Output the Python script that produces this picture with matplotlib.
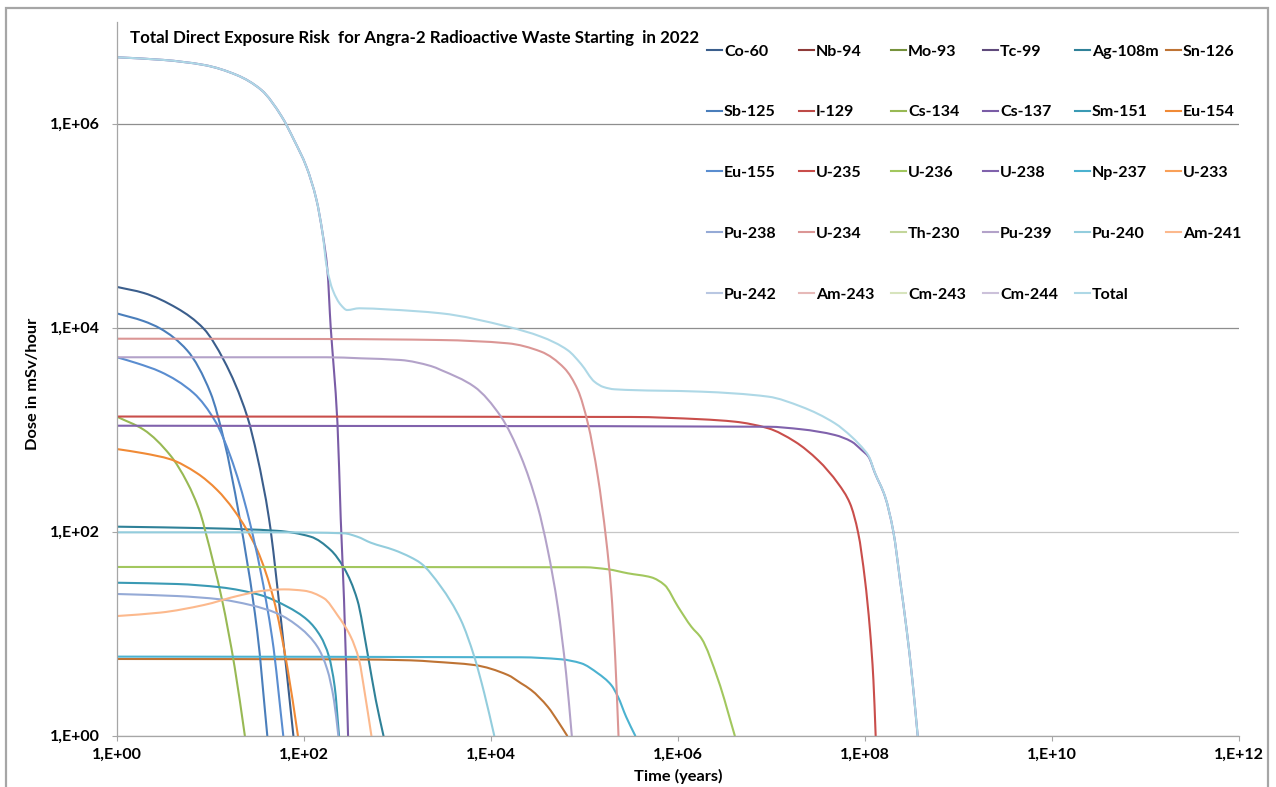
import matplotlib
matplotlib.use("Agg")
import numpy as np
import matplotlib.pyplot as plt
from matplotlib.lines import Line2D
from matplotlib.patches import Rectangle, PathPatch
from matplotlib.path import Path
from matplotlib.ticker import NullLocator

plt.rcParams['font.family'] = ['Lato', 'DejaVu Sans']
plt.rcParams['font.weight'] = 'bold'

W, H = 1276, 787

# ---------------- data (time in years, dose in mSv/hour) ----------------
co60_t = [1, 1.93, 4.40, 8.47, 13.9, 24.7, 31.6, 42.2, 56.2, 77]
co60_d = [25100, 21900, 15500, 9770, 4790, 1350, 550, 135, 14.8, 1]

sb125_t = [1, 1.93, 2.91, 5.62, 10, 13.9, 20.1, 31.6, 40.5]
sb125_d = [13800, 11600, 9800, 6000, 2300, 800, 150, 10.5, 1]

eu155_t = [1, 1.64, 2.91, 6.62, 11.3, 16.4, 25.7, 45.7, 60]
eu155_d = [5130, 4480, 3700, 2280, 1200, 543, 135, 9.0, 1]

cs134_t = [1, 1.93, 3.72, 5.62, 7.82, 8.83, 13.3, 18.1, 23.3]
cs134_d = [1340, 1000, 560, 305, 150, 100, 21.4, 4.74, 1]

eu154_t = [1, 1.93, 3.72, 7.19, 11.8, 17.8, 31.6, 47.6, 66.2, 86.1]
eu154_d = [646, 587, 513, 374, 256, 163, 66.1, 21.4, 4.74, 1]

ag108m_t = [1, 10, 51.8, 118, 193, 268, 372, 478, 586, 708]
ag108m_d = [112, 108, 102, 89.3, 66.1, 44.0, 21.4, 6.43, 2.24, 1]

sm151_t = [1, 4.40, 12.8, 34.3, 66.2, 109, 151, 185, 213, 237]
sm151_d = [31.6, 30.7, 28.5, 23.9, 18.4, 13.6, 9.35, 5.96, 3.02, 1]

pu238_t = [1, 4.40, 12.8, 26.8, 51.8, 92, 139, 178, 209, 233]
pu238_d = [24.5, 23.4, 21.7, 19.1, 15.8, 11.3, 7.46, 4.41, 2.24, 1]

am241_t = [1, 2.91, 8.47, 19.3, 37.2, 61, 100, 164, 228, 316, 388, 447, 526]
am241_d = [14.9, 16.1, 19.1, 23.4, 26.4, 27.2, 26.4, 22.2, 15.2, 9.35, 5.52, 2.61, 1]

pu240_t = [1, 51.8, 268, 372, 518, 920, 1387, 1778, 2911, 4764, 6622, 8472, 10839]
pu240_d = [98.6, 98.6, 96.4, 89.3, 78.0, 66.1, 56.1, 49.0, 28.9, 13.6, 5.96, 2.61, 1]

u236_t = [1, 1.0e5, 1.78e5, 2.91e5, 5.18e5, 7.19e5, 1.0e6, 1.39e6, 1.78e6, 2.69e6, 4.05e6]
u236_d = [45.1, 44.8, 42.8, 39.1, 35.7, 30.0, 18.4, 11.7, 9.0, 3.52, 1]

np237_t = [1, 2.09e4, 5.62e4, 9.2e4, 1.39e5, 1.93e5, 2.28e5, 2.79e5, 3.49e5]
np237_d = [5.96, 5.87, 5.61, 5.13, 4.09, 3.14, 2.41, 1.53, 1]

sn126_t = [1, 300, 1387, 2470, 6620, 1.51e4, 2.09e4, 2.68e4, 4.05e4, 5.26e4, 6.52e4]
sn126_d = [5.65, 5.60, 5.48, 5.31, 4.93, 3.94, 3.27, 2.81, 1.92, 1.36, 1]

u235_t = [1, 3.16e5, 1.78e6, 4.05e6, 9.2e6, 1.78e7, 3.16e7, 5.18e7, 6.9e7, 8.47e7, 1.0e8, 1.13e8, 1.23e8, 1.30e8]
u235_d = [1346, 1333, 1265, 1199, 1033, 764, 500, 295, 190, 96.4, 33.6, 10.9, 3.52, 1]

u238_t = [1, 9.2e6, 2.09e7, 4.76e7, 7.19e7, 9.2e7, 1.09e8, 1.28e8, 1.64e8, 2.01e8, 2.37e8, 2.79e8, 3.21e8, 3.66e8]
u238_d = [1094, 1069, 1009, 887, 764, 632, 543, 374, 220, 100, 33.6, 10.9, 3.52, 1]

pu239_t = [1, 175, 405, 1086, 2275, 2911, 6622, 12790, 20940, 31620, 40460, 51800, 63550, 73150]
pu239_d = [5130, 5130, 5010, 4820, 4210, 3850, 2640, 1340, 543, 176, 66.1, 18.4, 4.09, 1]

u234_t = [1, 175, 2911, 15100, 34360, 61000, 84900, 108600, 139000, 170600, 192900, 212800, 231000]
u234_d = [7800, 7745, 7570, 7030, 5820, 4000, 2450, 1156, 346, 83, 26.8, 5.96, 1]

cs137_t = [1, 3.13, 8.58, 19.1, 35, 57.9, 78.2, 106, 136, 158, 178, 193, 209, 228, 247, 268, 296]
cs137_d = [4.48e6, 4.22e6, 3.76e6, 3.0e6, 2.14e6, 1.17e6, 6.92e5, 3.79e5, 1.79e5, 8.42e4,
           3.68e4, 10090, 3850, 1156, 135, 21.4, 1]

total_t = [1, 3.13, 8.58, 19.1, 35, 57.9, 78.2, 106, 136, 158, 175, 203, 248, 289, 390, 788,
           2911, 15100, 34360, 66400, 92000, 1.28e5, 1.6e5, 2.09e5, 1.78e6, 9.2e6, 2.09e7,
           4.76e7, 7.19e7, 1.0e8, 1.09e8, 1.28e8, 1.64e8, 2.01e8, 2.37e8, 2.79e8, 3.21e8,
           3.66e8]
total_d = [4.48e6, 4.22e6, 3.76e6, 3.0e6, 2.14e6, 1.17e6, 6.92e5, 3.79e5, 1.79e5, 8.42e4,
           3.96e4, 2.34e4, 1.67e4, 1.49e4, 1.55e4, 1.51e4, 13840, 10230, 8160, 6000, 4400,
           2950, 2620, 2490, 2360, 2110, 1680, 1156, 853, 620, 556, 376, 221, 100, 33.6,
           10.9, 3.52, 1]

empty_t, empty_d = [], []

labels = ["Co-60", "Nb-94", "Mo-93", "Tc-99", "Ag-108m", "Sn-126",
          "Sb-125", "I-129", "Cs-134", "Cs-137", "Sm-151", "Eu-154",
          "Eu-155", "U-235", "U-236", "U-238", "Np-237", "U-233",
          "Pu-238", "U-234", "Th-230", "Pu-239", "Pu-240", "Am-241",
          "Pu-242", "Am-243", "Cm-243", "Cm-244", "Total"]

series_t = [co60_t, empty_t, empty_t, empty_t, ag108m_t, sn126_t,
            sb125_t, empty_t, cs134_t, cs137_t, sm151_t, eu154_t,
            eu155_t, u235_t, u236_t, u238_t, np237_t, empty_t,
            pu238_t, u234_t, empty_t, pu239_t, pu240_t, am241_t,
            empty_t, empty_t, empty_t, empty_t, total_t]
series_d = [co60_d, empty_d, empty_d, empty_d, ag108m_d, sn126_d,
            sb125_d, empty_d, cs134_d, cs137_d, sm151_d, eu154_d,
            eu155_d, u235_d, u236_d, u238_d, np237_d, empty_d,
            pu238_d, u234_d, empty_d, pu239_d, pu240_d, am241_d,
            empty_d, empty_d, empty_d, empty_d, total_d]

colors = ['#3B5E8C', '#8E3A38', '#76923C', '#5F4A7B', '#2F8198', '#BE7334',
          '#4A7EBB', '#BE4B48', '#98B954', '#7A5CA6', '#3A9AB4', '#F08A36',
          '#5A8DD0', '#C94E4B', '#A2C75E', '#8062AC', '#4BB2D0', '#F9A058',
          '#95AAD6', '#DB9695', '#C3D69B', '#B3A2C9', '#93CDDD', '#FCB98D',
          '#B9C7E2', '#E6B9B8', '#D7E4BD', '#CCC1DA', '#AED8E6']

x_ticks = [1e0, 1e2, 1e4, 1e6, 1e8, 1e10, 1e12]
x_tick_labels = ['1,E+00', '1,E+02', '1,E+04', '1,E+06', '1,E+08', '1,E+10', '1,E+12']
y_ticks = [1e0, 1e2, 1e4, 1e6]
y_tick_labels = ['1,E+00', '1,E+02', '1,E+04', '1,E+06']

title = "Total Direct Exposure Risk  for Angra-2 Radioactive Waste Starting  in 2022"


# Excel-like "smoothed line": cubic Bezier segments through the data points,
# built in log-log space (monotone Hermite tangents), drawn via a Path in data coords.
def smoothed_path(t, d):
    lx = np.log10(np.asarray(t, float))
    ly = np.log10(np.asarray(d, float))
    n = len(lx)
    h = np.diff(lx)
    s = np.diff(ly) / h
    m = np.zeros(n)
    m[0], m[-1] = s[0], s[-1]
    for i in range(1, n - 1):
        if s[i - 1] * s[i] <= 0:
            m[i] = 0.0
        else:
            w1 = 2 * h[i] + h[i - 1]
            w2 = h[i] + 2 * h[i - 1]
            m[i] = (w1 + w2) / (w1 / s[i - 1] + w2 / s[i])
    verts = [(lx[0], ly[0])]
    codes = [Path.MOVETO]
    for i in range(n - 1):
        verts.append((lx[i] + h[i] / 3, ly[i] + m[i] * h[i] / 3))
        verts.append((lx[i + 1] - h[i] / 3, ly[i + 1] - m[i + 1] * h[i] / 3))
        verts.append((lx[i + 1], ly[i + 1]))
        codes += [Path.CURVE4] * 3
    return Path(10 ** np.array(verts), codes)


# ---------------- figure ----------------
fig = plt.figure(figsize=(W / 100, H / 100), dpi=100)
fig.patch.set_facecolor('white')


def fx(px):
    return px / W


def fy(py):
    return 1 - py / H


ax_l, ax_r, ax_t, ax_b = 117, 1239, 21.7, 735.7
ax = fig.add_axes([fx(ax_l), fy(ax_b), (ax_r - ax_l) / W, (ax_b - ax_t) / H])
ax.set_xscale('log')
ax.set_yscale('log')

for t, d, c in zip(series_t, series_d, colors):
    if len(t) > 1:
        ax.add_patch(PathPatch(smoothed_path(t, d), fill=False, edgecolor=c, lw=1.5,
                               capstyle='round', joinstyle='round'))

ax.set_xlim(1, 1e12)
ax.set_ylim(1, 1e7)

ax.set_xticks(x_ticks)
ax.set_xticklabels(x_tick_labels)
ax.set_yticks(y_ticks)
ax.set_yticklabels(y_tick_labels)
ax.xaxis.set_minor_locator(NullLocator())
ax.yaxis.set_minor_locator(NullLocator())

axis_gray = '#A6A6A6'
ax.tick_params(axis='both', direction='out', length=3.6, width=0.8, color=axis_gray,
               labelsize=11.5)
ax.tick_params(axis='x', pad=5)
ax.tick_params(axis='y', pad=8.6)
for lab in ax.get_xticklabels() + ax.get_yticklabels():
    lab.set_fontweight('bold')

for s in ['top', 'right']:
    ax.spines[s].set_visible(False)
for s in ['left', 'bottom']:
    ax.spines[s].set_color(axis_gray)
    ax.spines[s].set_linewidth(0.9)

ax.yaxis.grid(True, color='#A0A0A0', lw=0.9)
grid_cols = ['#A6A6A6', '#C6C6C6', '#8E8E8E', '#8E8E8E']
for gl, gc in zip(ax.yaxis.get_gridlines(), grid_cols):
    gl.set_color(gc)
ax.set_axisbelow(True)

# title
fig.text(fx(129.5), fy(43.3), title, ha='left', va='baseline',
         fontsize=12.2, fontweight='bold')

# axis labels
fig.text(fx(678), fy(781), "Time (years)", ha='center', va='baseline',
         fontsize=11.8, fontweight='bold')
fig.text(fx(33), fy(384), "Dose in mSv/hour", ha='center', va='center',
         rotation=90, fontsize=11.8, fontweight='bold')

# legend (6 columns x 5 rows, drawn at the Excel positions)
col_x = [707, 799, 891, 983, 1075, 1166]
row_y = [50, 110.7, 171.4, 232.1, 292.8]
for i, (lab, c) in enumerate(zip(labels, colors)):
    r, k = divmod(i, 6)
    x0 = col_x[k]
    y0 = row_y[r]
    fig.add_artist(Line2D([fx(x0), fx(x0 + 15)], [fy(y0), fy(y0)],
                          transform=fig.transFigure, color=c, lw=1.5))
    fig.text(fx(x0 + 17), fy(y0 + 5.8), lab, ha='left', va='baseline',
             fontsize=11.5, fontweight='bold')

# outer chart frame
fig.add_artist(Rectangle((fx(6), -0.05), (1268 - 6) / W, fy(8) + 0.05,
                         transform=fig.transFigure, fill=False,
                         edgecolor='#A6A6A6', lw=1.6, clip_on=False))

fig.savefig("out.png", dpi=100)
